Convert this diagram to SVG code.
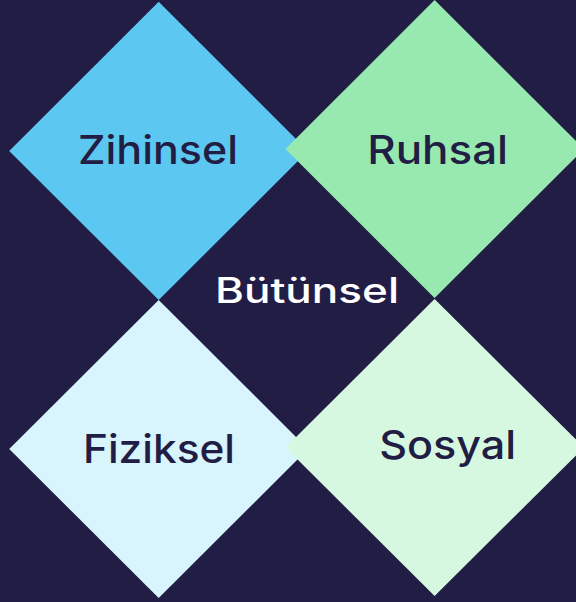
<svg xmlns="http://www.w3.org/2000/svg" width="576" height="602" viewBox="0 0 576 602">
<style>
.lbl{font-family:"Inter","Liberation Sans",Arial,sans-serif;font-weight:500;font-size:39px;fill:#221D44;text-anchor:middle}
.ctr{font-family:"Inter","Liberation Sans",Arial,sans-serif;font-weight:500;font-size:35px;fill:#FFFFFF;text-anchor:middle}
</style>
<rect x="0" y="0" width="576" height="602" fill="#221D44"/>
<g id="zihinsel">
<polygon points="158.7,1.7 308,151 158.7,300 9.2,151" fill="#5CC8F1"/>
<text class="lbl" x="158" y="164" textLength="160" lengthAdjust="spacingAndGlyphs">Zihinsel</text>
</g>
<g id="ruhsal">
<polygon points="434.6,0 584,149 434.6,298 285.5,149" fill="#98E9B0"/>
<text class="lbl" x="437.7" y="164" textLength="141" lengthAdjust="spacingAndGlyphs">Ruhsal</text>
</g>
<g id="fiziksel">
<polygon points="158.7,300 308,449 158.7,598 9.2,449" fill="#D8F4FC"/>
<text class="lbl" x="159" y="463.3" textLength="152" lengthAdjust="spacingAndGlyphs">Fiziksel</text>
</g>
<g id="sosyal">
<polygon points="434.6,299 584,447.5 434.6,596 285.5,447.5" fill="#D6F8E0"/>
<text class="lbl" x="447.7" y="459" textLength="137" lengthAdjust="spacingAndGlyphs">Sosyal</text>
</g>
<g id="butunsel">
<text class="ctr" x="307" y="303.3" textLength="184" lengthAdjust="spacingAndGlyphs">Bütünsel</text>
</g>
<g id="connectors"></g>
</svg>
